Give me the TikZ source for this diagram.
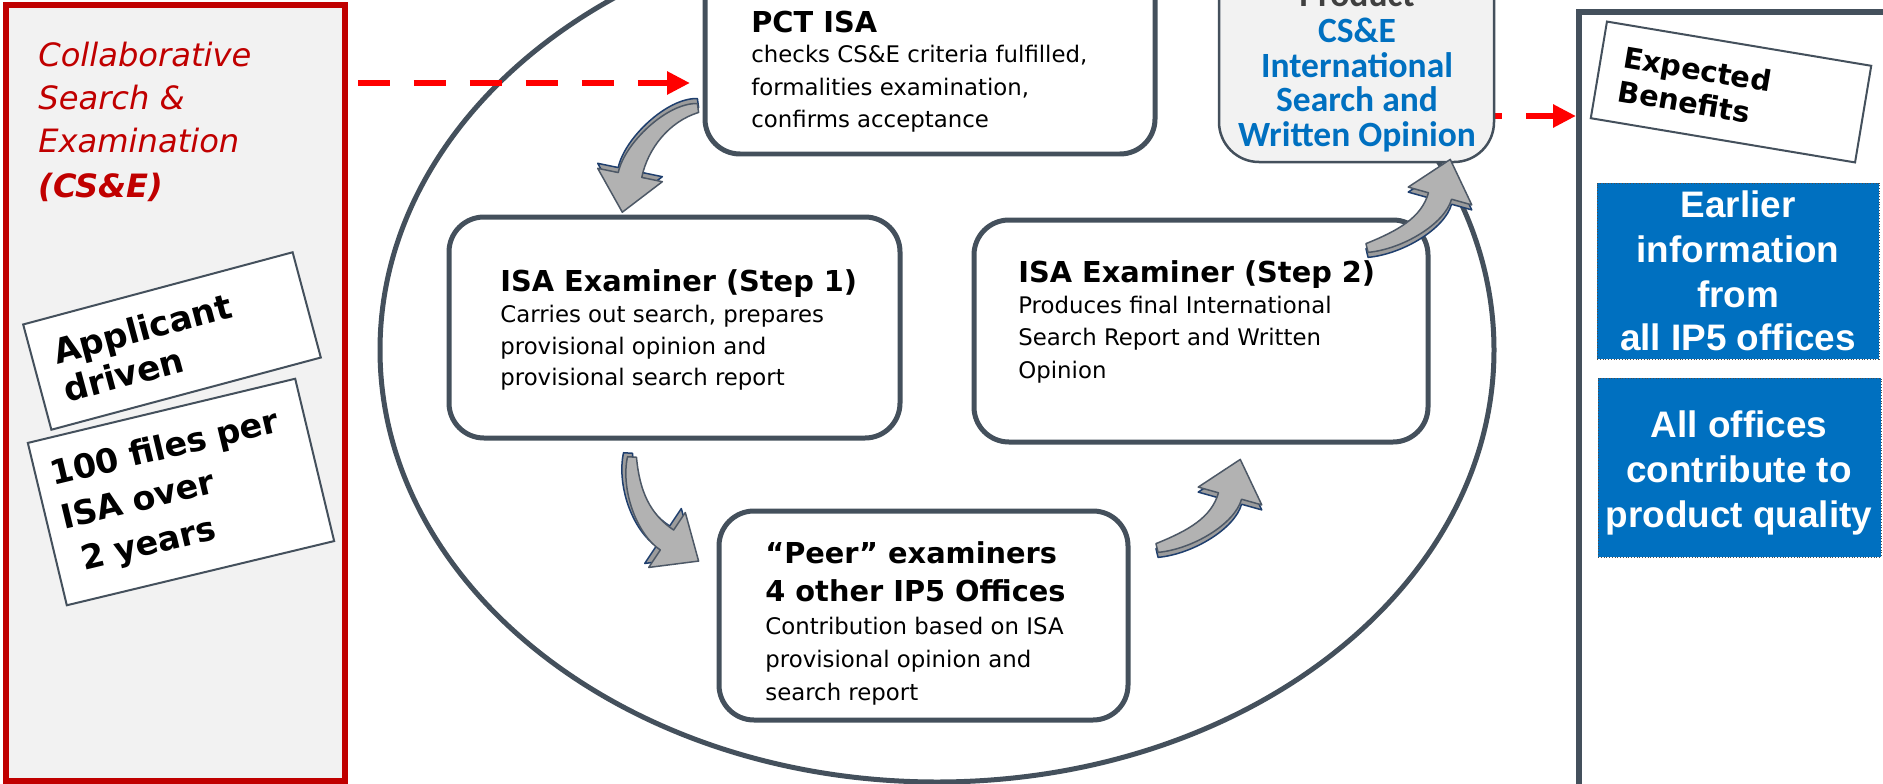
\documentclass[tikz,border=0pt]{standalone}
\usepackage{fontspec}
\setmainfont{DejaVu Sans}[BoldFont={DejaVu Sans Bold},ItalicFont={DejaVu Sans Oblique},BoldItalicFont={DejaVu Sans Bold Oblique}]
\newfontfamily\carl{Carlito}
\newfontfamily\arial{Liberation Sans}
\usetikzlibrary{arrows.meta,calc,fit}
\definecolor{slate}{HTML}{44505C}
\definecolor{cred}{HTML}{C00000}
\definecolor{lgray}{HTML}{F2F2F2}
\definecolor{pblue}{HTML}{0070C0}
\definecolor{agray}{HTML}{B2B2B2}
\definecolor{aside}{HTML}{9C9C9C}
\definecolor{aline}{HTML}{1F3F6E}
\definecolor{afront}{HTML}{4D5866}
\definecolor{dgray}{HTML}{404040}
% outline of a curved block arrow: tail #1, controls #2 #3, head base #4
\newcommand\arrowshape[4]{%
   ($(#1)!0.09cm!90:(#2)$) .. controls ($(#2)!0.19cm!-90:(#1)$) and ($(#3)!0.24cm!90:(#4)$) .. ($(#4)!0.24cm!-90:(#3)$)
   -- ($(#4)!0.66cm!-90:(#3)$) -- ($(#4)!-0.76cm!(#3)$) -- ($(#4)!0.66cm!90:(#3)$) -- ($(#4)!0.24cm!90:(#3)$)
   .. controls ($(#3)!0.24cm!-90:(#4)$) and ($(#2)!0.19cm!90:(#1)$) .. ($(#1)!0.09cm!-90:(#2)$) -- cycle}
\newcommand\curvearrow[5]{%
  \begin{scope}[shift={(#5)}]
    \filldraw[fill=aside, draw=aline, line width=0.03cm, line join=round] \arrowshape{#1}{#2}{#3}{#4};
  \end{scope}
  \filldraw[fill=agray, draw=afront, line width=0.03cm, line join=round] \arrowshape{#1}{#2}{#3}{#4};
}
\begin{document}
\begin{tikzpicture}[x=0.02cm,y=-0.02cm,
  cbox/.style={draw=slate, fill=white, line width=0.1cm, rounded corners=0.7cm, inner sep=0},
  body/.style={anchor=base west, inner sep=0, font=\fontsize{13}{15}\selectfont},
  ttl/.style={anchor=base west, inner sep=0, font=\fontsize{16.4}{19}\selectfont\bfseries},
  redt/.style={anchor=base west, inner sep=0, text=cred, font=\fontsize{18.3}{20}\selectfont\itshape},
  prodt/.style={anchor=base, inner sep=0, text=pblue, font=\carl\bfseries\fontsize{20.2}{22}\selectfont},
  bluet/.style={anchor=base, inner sep=0, text=white, font=\arial\bfseries\fontsize{21}{24}\selectfont},
  bluebox/.style={fill=pblue, draw=gray!60!black, densely dotted, line width=0.02cm, inner sep=0},
  rbox/.style={draw=slate, fill=white, line width=0.04cm, align=left},
  reddash/.style={draw=red, line width=0.12cm, dash pattern=on 0.64cm off 0.48cm, -{Triangle[length=0.46cm,width=0.44cm]}}
]
\useasboundingbox (0,0) rectangle (1883,784);
\clip (0,0) rectangle (1883,784);
\fill[white] (0,0) rectangle (1883,784);

% left panel
\node[draw=cred, fill=lgray, line width=0.12cm, inner sep=0, fit={(6,5) (345,781)}] (left) {};
\node[redt] (ct1) at (38,67) {Collaborative};
\node[redt] (ct2) at (38,110) {Search \&};
\node[redt] (ct3) at (38,153) {Examination};
\node[redt, font=\fontsize{18.3}{20}\selectfont\bfseries\itshape] (ct4) at (38,197) {(CS\&E)};
\node[rbox, rotate=15, minimum width=5.58cm, minimum height=2.18cm, inner xsep=0.45cm, text width=4.68cm,
      font=\fontsize{19.5}{22.5}\selectfont\bfseries] (app) at (172,341) {Applicant\\driven};
\node[rbox, rotate=13.5, minimum width=5.5cm, minimum height=3.34cm, inner xsep=0.3cm, text width=4.9cm,
      font=\fontsize{19}{25.5}\selectfont\bfseries] (files) at (181,492) {100 files per\\ISA over\\\hspace{0.3em}2 years};

% central ellipse
\draw[slate, line width=0.1cm] (937,350) ellipse [x radius=557, y radius=432];

% process boxes
\node[cbox, fit={(705,-40) (1155,154)}] (pct) {};
\node[cbox, fit={(449,217) (900,438)}] (s1) {};
\node[cbox, fit={(974,220) (1428,442)}] (s2) {};
\node[cbox, fit={(719,511) (1128,720)}] (peer) {};

% benefits panel
\node[draw=slate, fill=white, line width=0.12cm, inner sep=0, fit={(1579,12) (1950,850)}] (ben) {};
\coordinate (dr) at (1470,116);
\draw[reddash] (dr) -- (dr -| ben.west);

% product box
\node[draw=slate, fill=lgray, line width=0.05cm, rounded corners=0.8cm, inner sep=0, fit={(1219,-40) (1494,162)}] (prod) {};
\node[prodt, text=dgray] (pr0) at (1357,7) {Product};
\node[prodt] (pr1) at (1357,43) {CS\&E};
\node[prodt] (pr2) at (1357,78) {International};
\node[prodt] (pr3) at (1357,112) {Search and};
\node[prodt] (pr4) at (1357,147) {Written Opinion};

% left dashed arrow
\coordinate (dl) at (358,83);
\draw[reddash, shorten >=0.25cm] (dl) -- (dl -| pct.west);

% box texts
\node[ttl] (pt0) at (751,33) {PCT ISA};
\node[body] (pt1) at (751,63) {checks CS\&E criteria fulfilled,};
\node[body] (pt2) at (751,95) {formalities examination,};
\node[body] (pt3) at (751,128) {confirms acceptance};

\node[ttl] (st0) at (500,291) {ISA Examiner (Step 1)};
\node[body] (st1) at (500,322) {Carries out search, prepares};
\node[body] (st2) at (500,354) {provisional opinion and};
\node[body] (st3) at (500,385) {provisional search report};

\node[ttl] (su0) at (1018,282) {ISA Examiner (Step 2)};
\node[body] (su1) at (1018,313) {Produces final International};
\node[body] (su2) at (1018,345) {Search Report and Written};
\node[body] (su3) at (1018,378) {Opinion};

\node[ttl] (pe0) at (765,563) {“Peer” examiners};
\node[ttl] (pe1) at (765,601) {4 other IP5 Offices};
\node[body] (pe2) at (765,634) {Contribution based on ISA};
\node[body] (pe3) at (765,667) {provisional opinion and};
\node[body] (pe4) at (765,700) {search report};

% benefits content
\node[rbox, rotate=-9.5, minimum width=5.36cm, minimum height=1.96cm, inner xsep=0.45cm, text width=4.46cm,
      font=\fontsize{16.4}{19.5}\selectfont\bfseries] (eb) at (1731,92) {Expected\\Benefits};
\node[bluebox, fit={(1597,183) (1879,359)}] (b1) {};
\node[bluet] (b1a) at (1738,217) {Earlier};
\node[bluet] (b1b) at (1738,262) {information};
\node[bluet] (b1c) at (1738,307) {from};
\node[bluet] (b1d) at (1738,350) {all IP5 offices};
\node[bluebox, fit={(1598,378) (1881,557)}] (b2) {};
\node[bluet] (b2a) at (1739,437) {All offices};
\node[bluet] (b2b) at (1739,482) {contribute to};
\node[bluet] (b2c) at (1739,527) {product quality};

% curved block arrows
\curvearrow{698,108}{668,112}{636,146}{630,175}{0,-5}
\curvearrow{632,457}{630,490}{643,524}{667,540}{-4,-4}
\curvearrow{1157,548}{1190,540}{1223,521}{1230,496}{0,5}
\curvearrow{1367,248}{1400,240}{1433,221}{1440,196}{0,5}
\end{tikzpicture}
\end{document}
